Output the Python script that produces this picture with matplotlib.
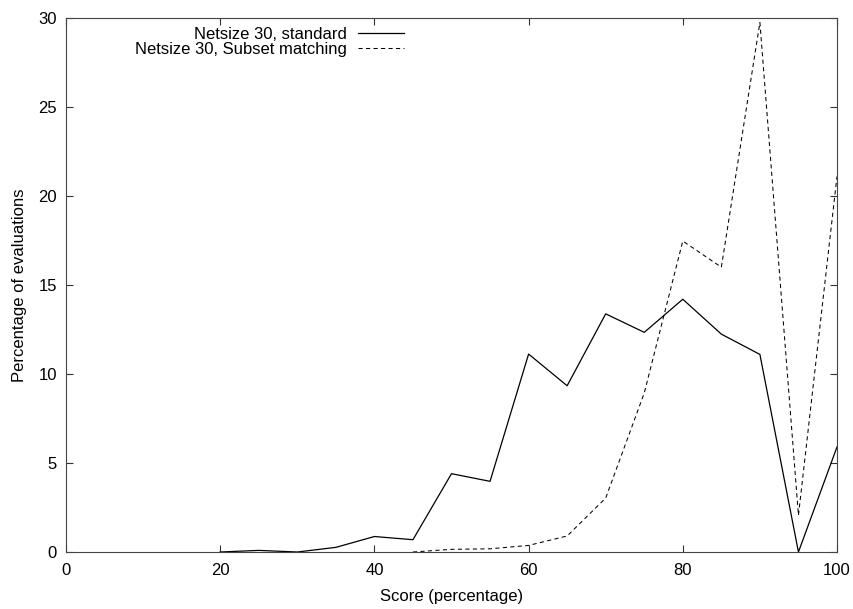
import matplotlib
matplotlib.use("Agg")
import matplotlib.pyplot as plt

plt.rcParams["font.family"] = ["Liberation Sans", "DejaVu Sans"]

# ── Data ──────────────────────────────────────────────────────────────────────
score_std = [20, 25, 30, 35, 40, 45, 50, 55, 60, 65, 70, 75, 80, 85, 90, 95, 100]
pct_std   = [0.0, 0.09, 0.0, 0.26, 0.87, 0.69, 4.4, 3.97, 11.12, 9.34,
             13.38, 12.34, 14.2, 12.24, 11.1, 0.0, 5.9]

score_sub = [45, 50, 55, 60, 65, 70, 75, 80, 85, 90, 95, 100]
pct_sub   = [0.0, 0.15, 0.18, 0.37, 0.9, 3.03, 8.93, 17.47, 16.0, 29.75, 2.06, 21.1]

label_std = "Netsize 30, standard"
label_sub = "Netsize 30, Subset matching"

x_ticks = [0, 20, 40, 60, 80, 100]
y_ticks = [0, 5, 10, 15, 20, 25, 30]

# ── Figure ────────────────────────────────────────────────────────────────────
fig = plt.figure(figsize=(8.54, 6.09), dpi=100)
ax = fig.add_axes([66 / 854, 1 - 552 / 609, 771 / 854, 534 / 609])

ax.plot(score_std, pct_std, color="black", lw=0.9, label=label_std)
ax.plot(score_sub, pct_sub, color="black", lw=0.75, dashes=(4, 3.2),
        label=label_sub)

ax.set_xlim(0, 100)
ax.set_ylim(0, 30)
ax.set_xticks(x_ticks)
ax.set_yticks(y_ticks)
ax.tick_params(direction="in", length=5, width=0.8, top=True, right=True,
               labelsize=12, colors="#333333", labelcolor="black")
ax.tick_params(axis="x", pad=8)
ax.tick_params(axis="y", pad=6.5)
for sp in ax.spines.values():
    sp.set_linewidth(0.8)
    sp.set_color("#444444")

ax.set_xlabel("Score (percentage)", fontsize=12, labelpad=7.5)
ax.set_ylabel("Percentage of evaluations", fontsize=12, labelpad=8)

ax.legend(loc="upper right", bbox_to_anchor=(0.456, 1.008), frameon=False,
          markerfirst=False, fontsize=12, handlelength=2.8,
          handletextpad=0.65, labelspacing=0.0, borderpad=0.3)

fig.savefig("out.png", dpi=100)
